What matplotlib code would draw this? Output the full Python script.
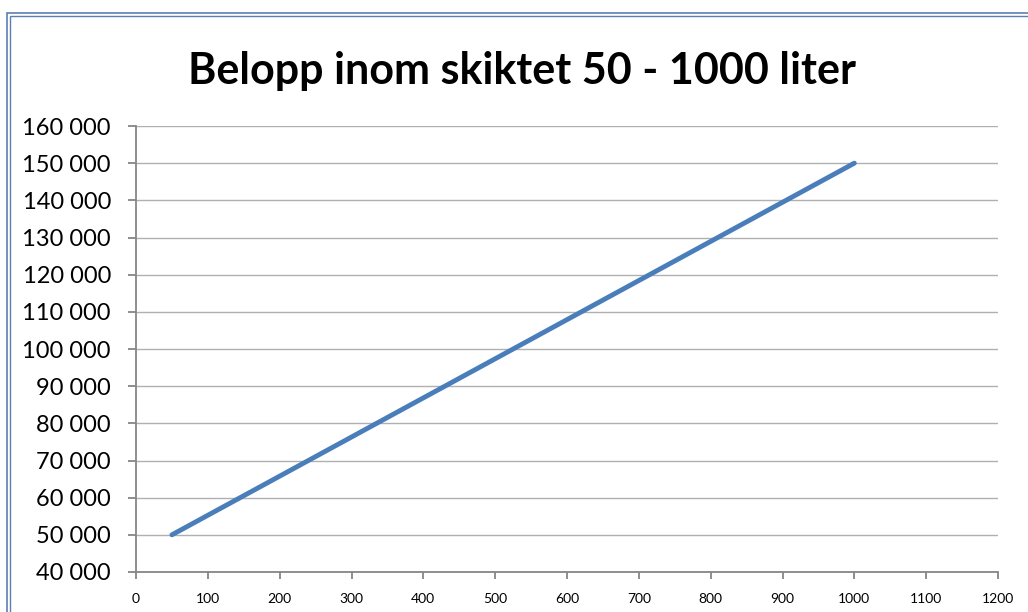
import matplotlib.pyplot as plt
from matplotlib.patches import Rectangle
from matplotlib.ticker import FuncFormatter

liters = [50, 1000]
belopp = [50000, 150000]
title = "Belopp inom skiktet 50 - 1000 liter"

plt.rcParams['font.family'] = ['Lato', 'DejaVu Sans']

fig = plt.figure(figsize=(10.28, 6.12), dpi=100)
W, H = 1028, 612

# double frame like the Excel chart border (cropped at right/bottom)
for off, lw in [(6.5, 1.2), (9.5, 1.0)]:
    fig.patches.append(Rectangle((off / W, -0.1), 1.2, (H - 13 - (off - 6.5)) / H + 0.1,
                                 transform=fig.transFigure, fill=False,
                                 edgecolor='#5b7fb0', linewidth=lw))

ax = fig.add_axes([136 / W, 40 / H, 862 / W, 446 / H])
ax.plot(liters, belopp, color='#4a7ebb', linewidth=3.5, solid_capstyle='round')

ax.set_xlim(0, 1200)
ax.set_ylim(40000, 160000)
ax.set_xticks(range(0, 1201, 100))
ax.set_yticks(range(40000, 160001, 10000))
ax.yaxis.set_major_formatter(FuncFormatter(lambda v, p: f"{int(v):,}".replace(",", " ")))
ax.grid(axis='y', color='#b0b0b0', linewidth=1)
ax.set_axisbelow(True)
for s in ['top', 'right']:
    ax.spines[s].set_visible(False)
for s in ['left', 'bottom']:
    ax.spines[s].set_color('#868686')
    ax.spines[s].set_linewidth(1.3)
ax.tick_params(axis='y', length=6, color='#868686', width=1.3, labelsize=17, pad=12)
ax.tick_params(axis='x', length=5, color='#868686', width=1.3, labelsize=10, pad=10)

fig.text(522 / W, 1 - 71 / H, title, ha='center', va='center',
         fontsize=31, fontweight='bold')

fig.savefig('out.png', dpi=100)
